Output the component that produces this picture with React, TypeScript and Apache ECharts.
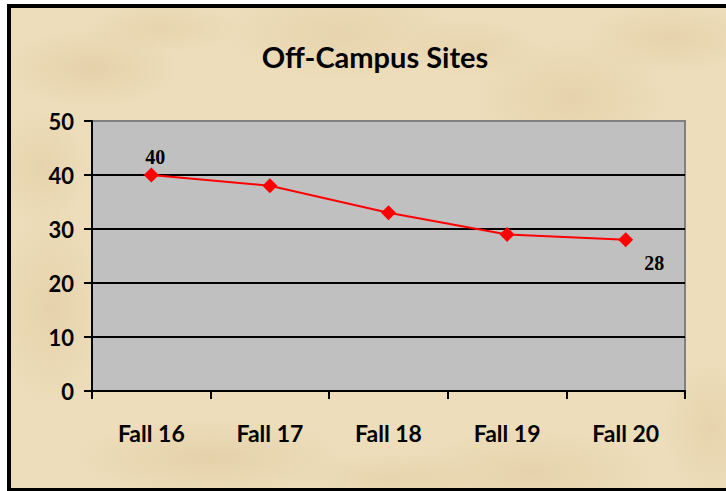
import React, { useEffect, useRef } from "react";
import * as echarts from "echarts";

const categories = ["Fall 16", "Fall 17", "Fall 18", "Fall 19", "Fall 20"];
const values = [40, 38, 33, 29, 28];
const yTicks = { min: 0, max: 50, interval: 10 };
const title = "Off-Campus Sites";

export default function App() {
  const ref = useRef<HTMLDivElement>(null);
  useEffect(() => {
    document.body.style.margin = "0";
    const chart = echarts.init(ref.current!, null, { renderer: "svg" });
    const labelled = values.map((v, i) => {
      if (i === 0)
        return { value: v, label: { show: true, position: "top", distance: 1, offset: [4, 0] } };
      if (i === values.length - 1)
        return { value: v, label: { show: true, position: "right", distance: 11, offset: [0, 23] } };
      return { value: v };
    });
    chart.setOption({
      animation: false,
      backgroundColor: "transparent",
      title: {
        text: title,
        left: 370,
        top: 37,
        textAlign: "center",
        textStyle: { fontFamily: "Lato", fontWeight: "bold", fontSize: 29, color: "#000" },
      },
      grid: {
        left: 92,
        right: 41,
        top: 121,
        bottom: 100,
        show: true,
        backgroundColor: "#c0c0c0",
        borderColor: "#808080",
        borderWidth: 2,
      },
      xAxis: {
        type: "category",
        data: categories,
        boundaryGap: true,
        axisLine: { show: true, lineStyle: { color: "#000", width: 2 } },
        axisTick: { show: true, alignWithLabel: false, length: 8, lineStyle: { color: "#000", width: 2 } },
        axisLabel: { margin: 30, color: "#000", fontFamily: "Lato", fontWeight: "bold", fontSize: 23 },
        splitLine: { show: false },
      },
      yAxis: {
        type: "value",
        min: yTicks.min,
        max: yTicks.max,
        interval: yTicks.interval,
        axisLine: { show: true, lineStyle: { color: "#000", width: 2 } },
        axisTick: { show: true, length: 8, lineStyle: { color: "#000", width: 2 } },
        axisLabel: { margin: 18, color: "#000", fontFamily: "Lato", fontWeight: "bold", fontSize: 22 },
        splitLine: {
          show: true,
          lineStyle: { color: ["#000", "#000", "#000", "#000", "#000", "#808080"], width: 2 },
        },
      },
      series: [
        {
          type: "line",
          data: labelled,
          symbol: "diamond",
          symbolSize: 15,
          lineStyle: { color: "#ff0000", width: 2 },
          itemStyle: { color: "#ff0000" },
          label: {
            show: false,
            color: "#000",
            fontFamily: "Liberation Serif",
            fontWeight: "bold",
            fontSize: 20,
          },
        },
      ],
    });
    return () => chart.dispose();
  }, []);

  const spots: [number, number, number, number, number][] = [
    [80, 60, 90, 40, 0.25], [330, 25, 120, 50, 0.2], [560, 90, 100, 60, 0.22],
    [200, 450, 140, 40, 0.25], [520, 465, 130, 45, 0.22], [40, 300, 60, 100, 0.22],
    [660, 30, 90, 35, 0.22], [30, 160, 50, 60, 0.2], [700, 420, 50, 70, 0.2],
    [380, 470, 90, 25, 0.2], [150, 20, 80, 25, 0.2], [460, 40, 70, 30, 0.18],
  ];
  const texture =
    spots
      .map(
        ([x, y, rx, ry, a]) =>
          `radial-gradient(ellipse ${rx}px ${ry}px at ${x}px ${y}px, rgba(205,175,125,${a}), transparent)`
      )
      .join(",") + ", #edddba";

  return (
    <div style={{ position: "fixed", left: 0, top: 0, width: 726, height: 491, background: "#fff" }}>
      <div
        style={{
          position: "absolute",
          left: 7,
          top: 4,
          width: 719,
          height: 487,
          boxSizing: "border-box",
          borderLeft: "4px solid #000",
          borderTop: "4px solid #000",
          borderBottom: "3px solid #000",
          background: texture,
        }}
      />
      <div ref={ref} style={{ position: "absolute", left: 0, top: 0, width: 726, height: 491 }} />
    </div>
  );
}
